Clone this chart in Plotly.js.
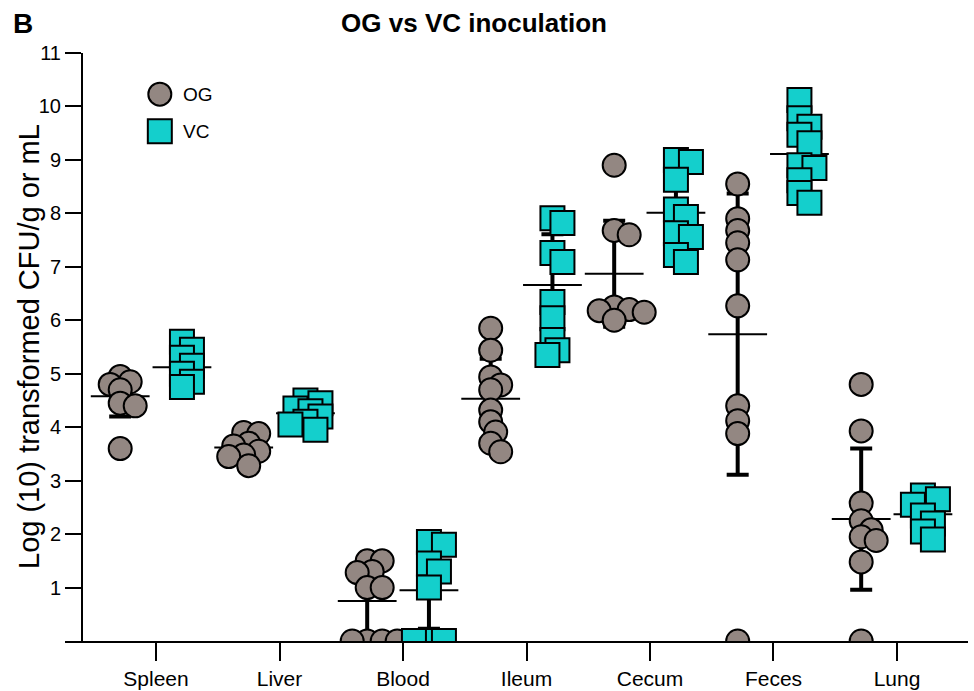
<!DOCTYPE html>
<html>
<head>
<meta charset="utf-8">
<script src="https://cdn.plot.ly/plotly-3.0.1.min.js"></script>
<style>html,body{margin:0;padding:0;background:#fff;}#chart{width:974px;height:691px;}</style>
</head>
<body>
<div id="chart"></div>
<script>
// ---- data ----
var categories = ['Spleen', 'Liver', 'Blood', 'Ileum', 'Cecum', 'Feces', 'Lung'];
var groups = ['OG', 'VC'];

var ogSpleen = [4.95, 4.85, 4.8, 4.7, 4.45, 4.4, 3.6];
var ogLiver  = [3.9, 3.88, 3.7, 3.65, 3.55, 3.48, 3.45, 3.28];
var ogBlood  = [1.5, 1.5, 1.3, 1.28, 1.0, 1.0, 0, 0, 0, 0];
var ogIleum  = [5.85, 5.44, 4.94, 4.79, 4.7, 4.32, 4.1, 3.91, 3.7, 3.54];
var ogCecum  = [8.9, 7.68, 7.6, 6.25, 6.2, 6.18, 6.15, 6.0];
var ogFeces  = [8.55, 7.9, 7.68, 7.45, 7.13, 6.27, 4.4, 4.12, 3.88, 0];
var ogLung   = [4.8, 3.93, 2.58, 2.25, 2.08, 1.95, 1.88, 1.48, 0];

var vcSpleen = [5.6, 5.45, 5.3, 5.15, 5.0, 4.85, 4.75];
var vcLiver  = [4.5, 4.45, 4.35, 4.3, 4.2, 4.1, 4.05, 3.95];
var vcBlood  = [1.85, 1.8, 1.45, 1.3, 1.0, 0, 0, 0];
var vcIleum  = [7.91, 7.82, 7.26, 7.09, 6.34, 6.04, 5.63, 5.44, 5.35];
var vcCecum  = [9.0, 8.96, 8.63, 8.07, 7.93, 7.63, 7.56, 7.22, 7.09];
var vcFeces  = [10.12, 9.78, 9.62, 9.47, 9.31, 8.9, 8.85, 8.62, 8.38, 8.2];
var vcLung   = [2.72, 2.65, 2.55, 2.35, 2.2, 2.05, 1.9];

var ogMean = [4.58, 3.62, 0.75, 4.53, 6.87, 5.74, 2.28];
var ogSD   = [0.38, 0.22, 0.68, 0.75, 0.99, 2.63, 1.32];
var vcMean = [5.12, 4.26, 0.95, 6.66, 8.01, 9.11, 2.37];
var vcSD   = [0.30, 0.18, 0.72, 0.95, 0.68, 0.60, 0.28];

var yTicks = [1, 2, 3, 4, 5, 6, 7, 8, 9, 10, 11];

// ---- styling / geometry ----
var FONT = '"Liberation Sans", Arial, Helvetica, sans-serif';
var OG_COLOR = '#938782';
var VC_COLOR = '#14cfcc';
var W = 974, H = 691;
var M = {l: 65, r: 6, t: 53, b: 50};
var XR = [-0.737, 6.575];
var YR = [0, 11];
var plotW = W - M.l - M.r, plotH = H - M.t - M.b;
var pxX = plotW / (XR[1] - XR[0]);
var pxY = plotH / (YR[1] - YR[0]);
var OFFSET = {OG: -0.29, VC: 0.21};

var ogData = [ogSpleen, ogLiver, ogBlood, ogIleum, ogCecum, ogFeces, ogLung];
var vcData = [vcSpleen, vcLiver, vcBlood, vcIleum, vcCecum, vcFeces, vcLung];

// deterministic swarm layout (like a scatter dot plot)
function swarm(values, minD, step) {
  var placed = [];
  var out = [];
  values.forEach(function (v) {
    var yp = v * pxY;
    var chosen = 0;
    for (var k = 0; k < 40; k++) {
      var n = Math.ceil(k / 2) * (k % 2 === 1 ? 1 : -1);
      var xo = n * step;
      var ok = placed.every(function (p) {
        var dx = p[0] - xo, dy = p[1] - yp;
        return Math.sqrt(dx * dx + dy * dy) >= minD;
      });
      if (ok) { chosen = xo; break; }
    }
    placed.push([chosen, yp]);
    out.push(chosen / pxX);
  });
  return out;
}

function pointTrace(name, data, color, symbol, size) {
  var xs = [], ys = [];
  data.forEach(function (vals, i) {
    var j = swarm(vals, 11, 5);
    vals.forEach(function (v, k) {
      xs.push(i + OFFSET[name] + j[k]);
      ys.push(v);
    });
  });
  return {
    type: 'scatter', mode: 'markers', x: xs, y: ys, name: name, showlegend: false,
    hoverinfo: 'y',
    marker: {symbol: symbol, size: size, color: color, line: {color: '#000', width: 2}}
  };
}

function meanTrace(name, means, sds) {
  return {
    type: 'scatter', mode: 'markers', showlegend: false, hoverinfo: 'y',
    x: categories.map(function (c, i) { return i + OFFSET[name]; }),
    y: means,
    marker: {symbol: 'line-ew', size: 42, color: '#000', line: {color: '#000', width: 2}},
    error_y: {type: 'data', array: sds, symmetric: true, visible: true, color: '#000', thickness: 4, width: 11}
  };
}

var traces = [
  meanTrace('OG', ogMean, ogSD),
  meanTrace('VC', vcMean, vcSD),
  pointTrace('OG', ogData, OG_COLOR, 'circle', 23),
  pointTrace('VC', vcData, VC_COLOR, 'square', 24),
  // legend keys on an overlay axis
  {type: 'scatter', mode: 'markers', x: [0.105], y: [0.930], xaxis: 'x2', yaxis: 'y2', showlegend: false, hoverinfo: 'skip',
   marker: {symbol: 'circle', size: 23, color: OG_COLOR, line: {color: '#000', width: 2}}},
  {type: 'scatter', mode: 'markers', x: [0.105], y: [0.867], xaxis: 'x2', yaxis: 'y2', showlegend: false, hoverinfo: 'skip',
   marker: {symbol: 'square', size: 24, color: VC_COLOR, line: {color: '#000', width: 2}}}
];

var layout = {
  width: W, height: H,
  margin: M,
  paper_bgcolor: '#fff', plot_bgcolor: '#fff',
  font: {family: FONT, color: '#000'},
  showlegend: false,
  title: {
    text: '<b>OG vs VC inoculation</b>',
    font: {family: FONT, size: 26, color: '#000'},
    xref: 'container', x: 474 / W, xanchor: 'center',
    yref: 'container', y: 1 - 23 / H, yanchor: 'middle'
  },
  xaxis: {
    range: XR, tickvals: categories.map(function (c, i) { return i; }), ticktext: categories,
    showgrid: false, zeroline: false, showline: true, linecolor: '#000', linewidth: 2,
    ticks: 'outside', ticklen: 18, tickwidth: 2, tickcolor: '#000',
    tickfont: {family: FONT, size: 21, color: '#000'}, fixedrange: true
  },
  yaxis: {
    range: YR, anchor: 'free', position: (82 - M.l) / plotW,
    tickvals: yTicks, ticktext: yTicks.map(String),
    showgrid: false, zeroline: false, showline: true, linecolor: '#000', linewidth: 2,
    ticks: 'outside', ticklen: 16, tickwidth: 2, tickcolor: '#000',
    tickfont: {family: FONT, size: 20, color: '#000'}, fixedrange: true
  },
  xaxis2: {overlaying: 'x', range: [0, 1], visible: false, anchor: 'y2', fixedrange: true},
  yaxis2: {overlaying: 'y', range: [0, 1], visible: false, anchor: 'x2', fixedrange: true},
  annotations: [
    {text: '<b>B</b>', xref: 'paper', yref: 'paper', x: (11 - M.l) / plotW, y: (H - M.b - 23) / plotH,
     xanchor: 'left', yanchor: 'middle', showarrow: false, font: {family: FONT, size: 28, color: '#000'}},
    {text: 'Log (10) transformed CFU/g or mL', xref: 'paper', yref: 'paper',
     x: (29 - M.l) / plotW, y: 0.5, xanchor: 'center', yanchor: 'middle', textangle: -90,
     showarrow: false, font: {family: FONT, size: 29, color: '#000'}},
    {text: 'OG', xref: 'paper', yref: 'paper', x: (181 - M.l) / plotW, y: 0.930, xanchor: 'left', yanchor: 'middle',
     showarrow: false, font: {family: FONT, size: 19, color: '#000'}},
    {text: 'VC', xref: 'paper', yref: 'paper', x: (181 - M.l) / plotW, y: 0.867, xanchor: 'left', yanchor: 'middle',
     showarrow: false, font: {family: FONT, size: 19, color: '#000'}}
  ]
};

Plotly.newPlot('chart', traces, layout, {displayModeBar: false, staticPlot: true});
</script>
</body>
</html>
